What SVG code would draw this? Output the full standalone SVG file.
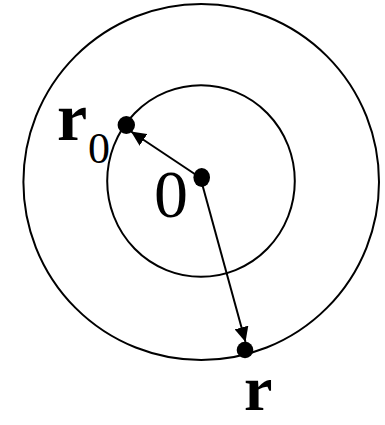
<svg xmlns="http://www.w3.org/2000/svg" width="385" height="425" viewBox="0 0 385 425">
<style>
.ring{fill:none;stroke:#000;stroke-width:2}
.dot{fill:#000}
.conn{stroke:#000;stroke-width:2;fill:none}
.lbl{font-family:"Liberation Serif","Times New Roman",serif;fill:#000}
.b{font-weight:bold}
</style>
<defs>
<marker id="ah" viewBox="0 0 15 14" refX="15" refY="7" markerWidth="15" markerHeight="14" markerUnits="userSpaceOnUse" orient="auto">
<path d="M0,0 L15,7 L0,14 z" fill="#000"/>
</marker>
</defs>
<rect width="385" height="425" fill="#fff"/>
<ellipse class="ring" cx="201.2" cy="182" rx="177.8" ry="178"/>
<ellipse class="ring" cx="201" cy="181" rx="93.8" ry="95.8"/>
<g id="connectors">
<line class="conn" x1="201.5" y1="178.5" x2="131" y2="131.5" marker-end="url(#ah)"/>
<line class="conn" x1="200.5" y1="178" x2="245.5" y2="342" marker-end="url(#ah)"/>
</g>
<g id="origin">
<ellipse class="dot" cx="201.7" cy="177.5" rx="8.3" ry="9.5"/>
<text class="lbl" x="154" y="216.7" font-size="68">0</text>
</g>
<g id="r0">
<ellipse class="dot" cx="126.3" cy="125" rx="8.7" ry="9"/>
<text class="lbl b" x="57" y="140" font-size="68">r</text>
<text class="lbl" x="88" y="163" font-size="44">0</text>
</g>
<g id="r">
<ellipse class="dot" cx="245" cy="350" rx="8.3" ry="8.3"/>
<text class="lbl b" x="244" y="410" font-size="64">r</text>
</g>
</svg>
